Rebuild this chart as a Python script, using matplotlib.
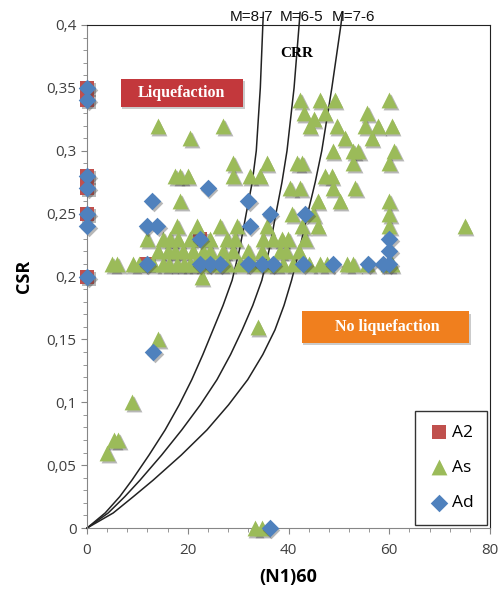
import numpy as np
import matplotlib
matplotlib.use('Agg')
import matplotlib.pyplot as plt
import matplotlib.transforms as mtransforms
from matplotlib.patches import Rectangle
from matplotlib.ticker import MultipleLocator, FuncFormatter

# A2 samples (red squares)
a2_n = [0, 0, 0, 0, 0, 0, 12, 22.5]
a2_csr = [0.35, 0.34, 0.28, 0.27, 0.25, 0.20, 0.21, 0.23]

# As samples (green triangles)
as_n = [14, 20.5, 27,
        42.3, 46.2, 49.2, 60, 43, 45, 47.2, 55.6,
        44.2, 49.6, 55.2, 57.7, 60.5, 51.2, 56.5,
        48.8, 52.8, 53.8, 61,
        29, 35.7, 41.7, 42.7, 52.8, 60,
        17.5, 18.5, 20, 29, 32.3, 34.3, 47.2, 48.6,
        40.3, 42.3, 48.8, 53.2,
        18.5, 45.8, 50.2, 60,
        40.7, 44.9, 60,
        17.9, 21.8, 26.4, 29.8, 35.7, 42.7, 45.8, 60, 75,
        12, 15.1, 16.5, 18, 20.4, 24.4, 27.8, 29.4, 34.9, 36.9, 38.7, 39.9, 43.3,
        14, 16, 17.5, 19, 21, 23, 24.5, 27, 29, 32, 34.7, 38.3, 39.5, 42,
        5, 6, 9.1, 10.3, 13, 15.1, 16.3, 17.9, 19.2, 20.4, 21.5, 23, 25, 26.4,
        27.8, 30.4, 32.9, 35.9, 37.5, 38.9, 40.9, 44, 46.2, 47.6, 51.6, 52.8,
        55.6, 59.7, 60.5,
        22.8,
        14.1, 33.9, 9, 5.3, 6.2, 4, 33.3, 34.7]
as_csr = [0.32, 0.31, 0.32,
          0.34, 0.34, 0.34, 0.34, 0.33, 0.325, 0.33, 0.33,
          0.32, 0.32, 0.32, 0.32, 0.32, 0.31, 0.31,
          0.30, 0.30, 0.30, 0.30,
          0.29, 0.29, 0.29, 0.29, 0.29, 0.29,
          0.28, 0.28, 0.28, 0.28, 0.28, 0.28, 0.28, 0.28,
          0.27, 0.27, 0.27, 0.27,
          0.26, 0.26, 0.26, 0.26,
          0.25, 0.25, 0.25,
          0.24, 0.24, 0.24, 0.24, 0.24, 0.24, 0.24, 0.24, 0.24,
          0.23, 0.23, 0.23, 0.23, 0.23, 0.23, 0.23, 0.23, 0.23, 0.23, 0.23, 0.23, 0.23,
          0.22, 0.22, 0.22, 0.22, 0.22, 0.22, 0.22, 0.22, 0.22, 0.22, 0.22, 0.22, 0.22, 0.22,
          0.21, 0.21, 0.21, 0.21, 0.21, 0.21, 0.21, 0.21, 0.21, 0.21, 0.21, 0.21, 0.21, 0.21,
          0.21, 0.21, 0.21, 0.21, 0.21, 0.21, 0.21, 0.21, 0.21, 0.21, 0.21, 0.21,
          0.21, 0.21, 0.21,
          0.20,
          0.15, 0.16, 0.10, 0.07, 0.07, 0.06, 0.0, 0.0]

# Ad samples (blue diamonds)
ad_n = [0, 0, 0, 0, 0, 0, 0, 24, 12.9, 32, 11.9, 13.9, 32.3, 22.4, 36.3, 43.3,
        11.9, 22.4, 24.4, 26.4, 32, 34.7, 36.9, 42.9, 48.8, 55.8, 58.7,
        60, 60, 60, 13.1, 36.3]
ad_csr = [0.35, 0.34, 0.28, 0.27, 0.25, 0.24, 0.20, 0.27, 0.26, 0.26, 0.24, 0.24,
          0.24, 0.23, 0.25, 0.25,
          0.21, 0.21, 0.21, 0.21, 0.21, 0.21, 0.21, 0.21, 0.21, 0.21, 0.21,
          0.21, 0.22, 0.23, 0.14, 0.0]

# CRR curves
crr_csr = [0, 0.012, 0.025, 0.038, 0.058, 0.078, 0.098, 0.118, 0.138, 0.1575, 0.177,
           0.197, 0.222, 0.25, 0.275, 0.30, 0.35, 0.40, 0.41]
crr_87 = [0, 3.6, 6.5, 8.9, 12.3, 15.5, 18.3, 20.8, 23.0, 25.0, 27.0,
          28.8, 30.3, 31.6, 32.8, 33.6, 34.4, 34.9, 35.0]
crr_65 = [0, 4.2, 7.5, 10.5, 14.8, 18.8, 22.5, 25.8, 28.5, 30.8, 32.9,
          34.7, 36.2, 37.5, 38.7, 39.7, 41.1, 42.1, 42.3]
crr_76 = [0, 5.2, 9.2, 13.1, 18.7, 23.8, 28.1, 31.9, 34.9, 37.3, 39.1,
          40.6, 42.2, 43.8, 45.3, 46.6, 48.6, 50.4, 50.7]
curve_labels = ['M=8-7', 'M=6-5', 'M=7-6']
label_n = [32.7, 42.5, 52.9]

red = '#c0504d'
green = '#9bbb59'
blue = '#4f81bd'

fig = plt.figure(figsize=(5.01, 5.94), dpi=100)
ax = fig.add_axes([0.1737, 0.111, 0.8044, 0.847])

for xs in [crr_87, crr_65, crr_76]:
    ax.plot(xs, crr_csr, color='#222222', lw=1.1, clip_on=False, zorder=2)

shadow = mtransforms.offset_copy(ax.transData, fig=fig, x=1.5, y=-2.0, units='dots')
series = [(a2_n, a2_csr, 's', red, 110, 'A2'),
          (as_n, as_csr, '^', green, 130, 'As'),
          (ad_n, ad_csr, 'D', blue, 80, 'Ad')]
z = 3
for xs, ys, m, c, s, lab in series:
    ax.scatter(xs, ys, marker=m, s=s, color='#333333', alpha=0.35, linewidths=0,
               transform=shadow, clip_on=False, zorder=z)
    ax.scatter(xs, ys, marker=m, s=s, color=c, linewidths=0, label=lab,
               clip_on=False, zorder=z + 1)
    z += 2

ax.set_xlim(0, 80)
ax.set_ylim(0, 0.4)
ax.xaxis.set_major_locator(MultipleLocator(20))
ax.xaxis.set_minor_locator(MultipleLocator(4))
ax.yaxis.set_major_locator(MultipleLocator(0.05))
ax.yaxis.set_minor_locator(MultipleLocator(0.01))
ax.yaxis.set_major_formatter(FuncFormatter(lambda v, p: ('%g' % round(v, 2)).replace('.', ',')))
ax.tick_params(which='both', direction='out', colors='#868686', labelcolor='#404040',
               labelsize=11)
ax.tick_params(axis='x', pad=7)
ax.tick_params(which='major', length=4)
ax.tick_params(which='minor', length=3)
for lab in ax.get_xticklabels() + ax.get_yticklabels():
    lab.set_family('Open Sans')
ax.spines['left'].set_color('#868686')
ax.spines['bottom'].set_color('#868686')
ax.spines['top'].set_color('#222222')
ax.spines['right'].set_color('#222222')

ax.set_xlabel('(N1)60', fontsize=13, fontweight='bold', family='Open Sans', labelpad=7)
ax.set_ylabel('CSR', fontsize=13, fontweight='bold', family='Open Sans', labelpad=10)

for lx, t in zip(label_n, curve_labels):
    ax.text(lx, 0.4062, t, ha='center', va='center', fontsize=11,
            family='Liberation Sans', color='#111111')
ax.text(41.7, 0.377, 'CRR', ha='center', va='center', fontsize=11, fontweight='bold',
        family='Liberation Serif')

# region boxes
for (x0, y0, w, h, fc, txt, tx) in [(0.084, 0.837, 0.303, 0.056, '#c3383c', 'Liquefaction', 0.235),
                                     (0.533, 0.368, 0.415, 0.063, '#f07f1e', 'No liquefaction', 0.745)]:
    ax.add_patch(Rectangle((x0 + 0.004, y0 - 0.005), w, h, transform=ax.transAxes,
                           facecolor='#999999', alpha=0.5, edgecolor='none', zorder=8))
    ax.add_patch(Rectangle((x0, y0), w, h, transform=ax.transAxes,
                           facecolor=fc, edgecolor='none', zorder=9))
    ax.text(tx, y0 + h / 2, txt, transform=ax.transAxes, ha='center', va='center',
            color='white', fontsize=11.5, fontweight='bold', family='Liberation Serif',
            zorder=10)

leg = ax.legend(loc='lower right', bbox_to_anchor=(0.993, 0.006), borderaxespad=0,
                frameon=True, fancybox=False, edgecolor='black', labelspacing=1.1,
                handletextpad=0.1, handlelength=1.2, borderpad=0.8, scatterpoints=1,
                prop={'family': 'Open Sans', 'size': 12.5})
leg.get_frame().set_linewidth(1.0)
leg.set_zorder(12)

fig.savefig('out.png', dpi=100)
